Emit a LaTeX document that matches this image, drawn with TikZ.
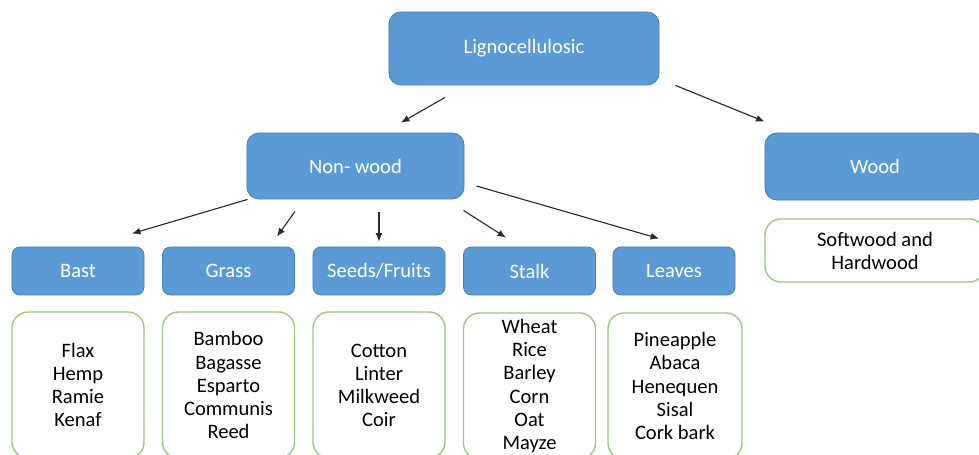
\documentclass[tikz,border=0pt]{standalone}
\usepackage{fontspec}
\setmainfont{Carlito}
\usepackage{tikz}
\usetikzlibrary{calc}
\usetikzlibrary{arrows.meta}
\definecolor{boxblue}{HTML}{5B9BD5}
\definecolor{boxrim}{HTML}{4A7EBB}
\definecolor{listrim}{HTML}{9DC97C}
\definecolor{arrowgrey}{HTML}{2A2A2A}
\tikzstyle{chart}=[x=0.025cm, y=-0.025cm, font=\fontsize{14.6}{16.4}\selectfont]
\tikzstyle{cat}=[rectangle, rounded corners=0.3cm, draw=boxrim, line width=0.6pt, fill=boxblue, text=white, inner sep=0pt]
\tikzstyle{sub}=[cat, rounded corners=0.2cm, minimum width=3.3cm, minimum height=1.2cm]
\tikzstyle{list}=[rectangle, rounded corners=0.4cm, draw=listrim, line width=1pt, fill=white, align=center, inner sep=0pt, minimum width=3.3cm, minimum height=3.65cm]
\tikzstyle{edge}=[-{Latex[length=6pt,width=5pt]}, draw=arrowgrey, line width=0.8pt]

\begin{document}
\begin{tikzpicture}[chart]
	\clip (0,0) rectangle (979,454);
	\draw (524,48.5) node[cat, minimum width=6.75cm, minimum height=1.825cm] (ligno) {Lignocellulosic};
	\draw (355.5,166) node[cat, minimum width=5.425cm, minimum height=1.65cm] (nonwood) {Non- wood};
	\draw (875,166.5) node[cat, minimum width=5.5cm, minimum height=1.675cm] (wood) {Wood};
	\draw (875,250.5) node[list, minimum height=1.575cm, minimum width=5.5cm] (woodlist) {Softwood and\\Hardwood};
	% fibre groups
	\draw (78,271) node[sub] (bast) {Bast};
	\draw (228.5,271) node[sub] (grass) {Grass};
	\draw (379,271) node[sub] (seeds) {Seeds/Fruits};
	\draw (529.5,271) node[sub] (stalk) {Stalk};
	\draw (674,271) node[sub, minimum width=3.05cm] (leaves) {Leaves};
	% lists
	\draw (78,385) node[list] (bastlist) {Flax\\Hemp\\Ramie\\Kenaf};
	\draw (228.5,385) node[list] (grasslist) {Bamboo\\Bagasse\\Esparto\\Communis\\Reed};
	\draw (379,385) node[list] (seedslist) {Cotton\\Linter\\Milkweed\\Coir};
	\draw (529.5,386) node[list] (stalklist) {Wheat\\Rice\\Barley\\Corn\\Oat\\Mayze};
	\draw (675,386) node[list, minimum width=3.35cm] (leaveslist) {Pineapple\\Abaca\\Henequen\\Sisal\\Cork bark};
	\draw[edge] ($(ligno.south)+(-79,12)$) -- ($(nonwood.north)+(45.5,-10)$);
	\draw[edge] ($(ligno.south east)+(16,0)$) -- ($(wood.north west)+(0,-11)$);
	\draw[edge] ($(nonwood.south west)+(1,0)$) -- ($(bast.north)+(54,-13)$);
	\draw[edge] ($(nonwood.south)+(-60.5,12)$) -- ($(grass.north)+(48.5,-10)$);
	\draw[edge] ($(nonwood.south)+(23.5,13)$) -- ($(seeds.north)+(0,-5)$);
	\draw[edge] ($(nonwood.south east)+(-1,11)$) -- ($(stalk.north)+(-23.5,-9)$);
	\draw[edge] ($(nonwood.east)+(12,20)$) -- ($(leaves.north)+(-15,-8)$);
\end{tikzpicture}
\end{document}
